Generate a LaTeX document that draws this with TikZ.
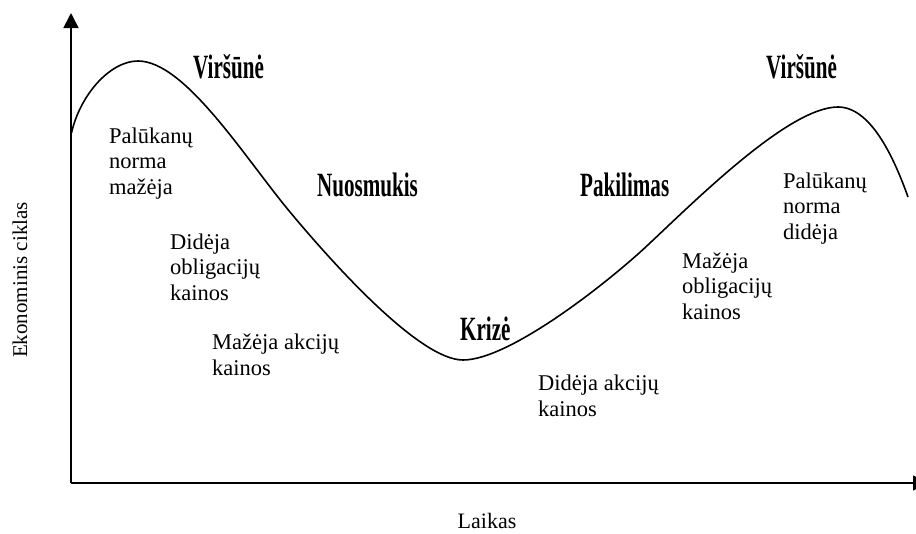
\documentclass[tikz,border=0pt]{standalone}
\usepackage{fontspec}
\setmainfont{Liberation Serif}
\usetikzlibrary{arrows.meta}
\tikzset{
  body/.style={anchor=base west, inner sep=0pt, align=left, font=\fontsize{22.5}{25.5}\selectfont},
  phase/.style={anchor=base west, inner sep=0pt},
  axis/.style={line width=1.7pt, -{Triangle[width=15pt,length=15pt]}},
  curve/.style={line width=1.6pt}
}
\newcommand{\phasetxt}[1]{\scalebox{0.62}[1]{\fontsize{34}{34}\selectfont\bfseries #1}}
\begin{document}
\begin{tikzpicture}[x=1pt,y=-1pt]
\useasboundingbox (0,0) rectangle (916,533);
\coordinate (O) at (71,483);
\coordinate (Ytip) at (71,13);
\coordinate (Xtip) at (928,483);
\draw[axis] (O) -- (Ytip);
\draw[axis] (O) -- (Xtip);
% cycle curve
\coordinate (c0) at (71.5,133);
\coordinate (p1) at (138,61);
\coordinate (m1) at (290,212);
\coordinate (tr) at (463,360);
\coordinate (m2) at (650,243);
\coordinate (p2) at (838,107);
\coordinate (c1) at (908,197);
\draw[curve] (c0) .. controls (80,95) and (110,61) .. (p1)
  .. controls (185,61) and (245,158) .. (m1)
  .. controls (335,266) and (420,360) .. (tr)
  .. controls (510,360) and (610,281) .. (m2)
  .. controls (700,196) and (790,107) .. (p2)
  .. controls (870,107) and (893,155) .. (c1);
% phase labels
\node[phase] (v1) at (193,78) {\phasetxt{Viršūnė}};
\node[phase] (nu) at (317,196) {\phasetxt{Nuosmukis}};
\node[phase] (kr) at (460,340) {\phasetxt{Krizė}};
\node[phase] (pa) at (580,196) {\phasetxt{Pakilimas}};
\node[phase] (v2) at (766,78) {\phasetxt{Viršūnė}};
% descriptive texts (anchored at the baseline of their last line)
\node[body] (t1) at (109,194) {Palūkanų\\norma\\mažėja};
\node[body] (t2) at (170,300) {Didėja\\obligacijų\\kainos};
\node[body] (t3) at (212,375) {Mažėja akcijų\\kainos};
\node[body] (t4) at (538,416) {Didėja akcijų\\kainos};
\node[body] (t5) at (682,319) {Mažėja\\obligacijų\\kainos};
\node[body] (t6) at (783,239) {Palūkanų\\norma\\didėja};
% axis titles
\node[font=\fontsize{21}{21}\selectfont, rotate=90] (ylab) at (20,280) {Ekonominis ciklas};
\node[font=\fontsize{22}{22}\selectfont] (xlab) at (487,521) {Laikas};
\end{tikzpicture}
\end{document}
